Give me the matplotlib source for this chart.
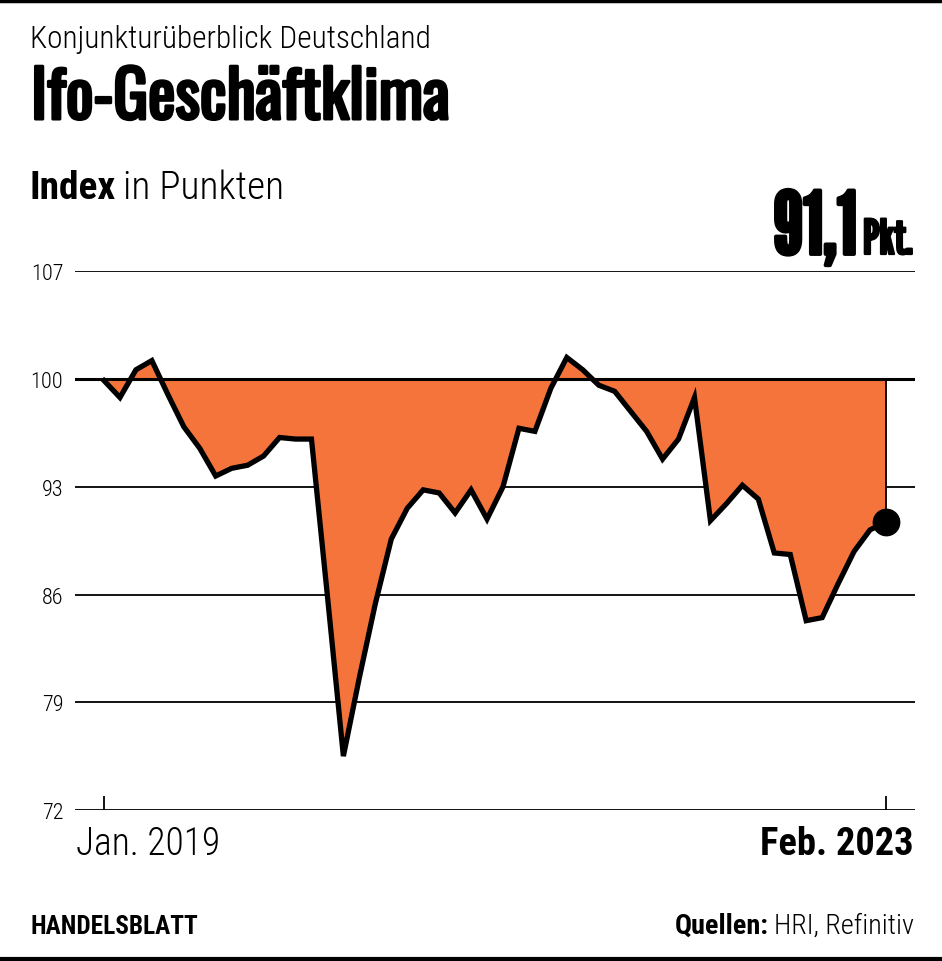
import matplotlib
matplotlib.use("Agg")
import matplotlib.pyplot as plt
from matplotlib import font_manager as fm
from matplotlib import patheffects as pe
import numpy as np

# ---- data (monthly, Jan 2019 .. Feb 2023) ----
values = [
    99.9, 98.8, 100.6, 101.2, 99.0, 96.9, 95.5, 93.7, 94.2, 94.4, 95.0, 96.2,   # 2019
    96.1, 96.1, 85.9, 75.5, 80.6, 85.4, 89.6, 91.6, 92.8, 92.6, 91.3, 92.8,     # 2020
    90.9, 93.0, 96.8, 96.6, 99.4, 101.4, 100.6, 99.6, 99.2, 97.9, 96.6, 94.8,   # 2021
    96.1, 98.8, 90.8, 91.9, 93.1, 92.2, 88.7, 88.6, 84.3, 84.5, 86.7, 88.8,     # 2022
    90.2, 90.7,                                                                 # 2023
]
y_ticks = [72, 79, 86, 93, 100, 107]
x_labels = ["Jan. 2019", "Feb. 2023"]
baseline_value = 100
last_label = "91,1"

available = set(f.name for f in fm.fontManager.ttflist)

def pick(cands):
    for c in cands:
        if c in available:
            return c
    return "DejaVu Sans"

BODY = pick(["Roboto Condensed", "Archivo Narrow", "Liberation Sans"])
TITLE = pick(["Oswald", "League Gothic", "Roboto Condensed", "DejaVu Sans"])
BIG = pick(["League Gothic", "Oswald", "Roboto Condensed", "DejaVu Sans"])
LIGHT = 300

W, H = 942, 962
fig = plt.figure(figsize=(W / 100, H / 100), dpi=100)

def fx(px):
    return px / W

def fy(py):
    return 1 - py / H

fig.canvas.draw()
R = fig.canvas.get_renderer()

def fit_text(xpx, ypx, s, target_w, family, weight="normal", ha="left", start=20, **kw):
    t = fig.text(fx(xpx), fy(ypx), s, fontsize=start, fontfamily=family, fontweight=weight,
                 ha=ha, va="baseline", **kw)
    w = t.get_window_extent(R).width
    t.set_fontsize(start * target_w / w)
    return t

# axes geometry
ax_left, ax_right = 75, 915
ax_top, ax_bottom = 272.3, 811
ax = fig.add_axes([fx(ax_left), fy(ax_bottom), fx(ax_right - ax_left), (ax_bottom - ax_top) / H])

n = len(values)
x = np.arange(n)
pxu = (886 - 104) / (n - 1)
ax.set_xlim(0 - (104 - ax_left) / pxu, (n - 1) + (ax_right - 886) / pxu)
ax.set_ylim(72, 107)

for s in ax.spines.values():
    s.set_visible(False)

for t in y_ticks:
    lw = 2.2 if t == baseline_value else 1.3
    ax.axhline(t, color="black", lw=lw, zorder=1 if t != baseline_value else 3)

vals = np.array(values)
ax.fill_between(x, vals, baseline_value, color="#F5743B", lw=0, zorder=2)
ax.plot([x[-1], x[-1]], [vals[-1], baseline_value], color="black", lw=1.3, zorder=3)
ax.plot(x, vals, color="black", lw=3.8, solid_joinstyle="miter", zorder=4)
ax.plot([x[-1]], [vals[-1]], "o", color="black", ms=19, zorder=5)

ax.set_yticks(y_ticks)
ax.set_yticklabels([str(t) for t in y_ticks], fontsize=16, fontfamily=BODY, fontweight=LIGHT)
ax.tick_params(axis="y", length=0, pad=8.5)
ax.set_xticks([0, n - 1])
ax.set_xticklabels(["", ""])
ax.tick_params(axis="x", direction="in", length=10, width=1.3, color="black", pad=0)

# x labels
fit_text(76, 855, x_labels[0], 144, BODY, weight=LIGHT)
fit_text(914, 855, x_labels[1], 153, BODY, weight="bold", ha="right")

# header
fit_text(30, 48, "Konjunkturüberblick Deutschland", 400, BODY, weight=LIGHT)
fit_text(31, 120, "Ifo-Geschäftklima", 420, TITLE,
         path_effects=[pe.withStroke(linewidth=2.2, foreground="black")])

t_idx = fit_text(30, 199, "Index", 86, BODY, weight="bold")
fig.canvas.draw()
bb = t_idx.get_window_extent(R)
fig.text(bb.x1 / W + fx(7), fy(199), "in Punkten", fontsize=t_idx.get_fontsize(),
         fontfamily=BODY, fontweight=LIGHT, ha="left", va="baseline")

t_pkt = fit_text(913, 255, "Pkt.", 50, BIG, ha="right",
                 path_effects=[pe.withStroke(linewidth=1.6, foreground="black")])
fig.canvas.draw()
bb = t_pkt.get_window_extent(R)
fit_text(bb.x0 - 5, 255, last_label, 84, BIG, ha="right",
         path_effects=[pe.withStroke(linewidth=2.8, foreground="black")])

# footer
fit_text(30, 934, "HANDELSBLATT", 168, BODY, weight="bold")
t_src = fit_text(914, 934, "HRI, Refinitiv", 140, BODY, weight=LIGHT, ha="right")
fig.canvas.draw()
bb = t_src.get_window_extent(R)
fig.text(bb.x0 / W - fx(5), fy(934), "Quellen:", fontsize=t_src.get_fontsize(), fontfamily=BODY,
         fontweight="bold", ha="right", va="baseline")

# top/bottom rules
fig.add_artist(plt.Line2D([0, 1], [fy(1.5), fy(1.5)], color="black", lw=2.5, transform=fig.transFigure))
fig.add_artist(plt.Line2D([0, 1], [fy(959.5), fy(959.5)], color="black", lw=3, transform=fig.transFigure))

fig.savefig("out.png", dpi=100, facecolor="white")
